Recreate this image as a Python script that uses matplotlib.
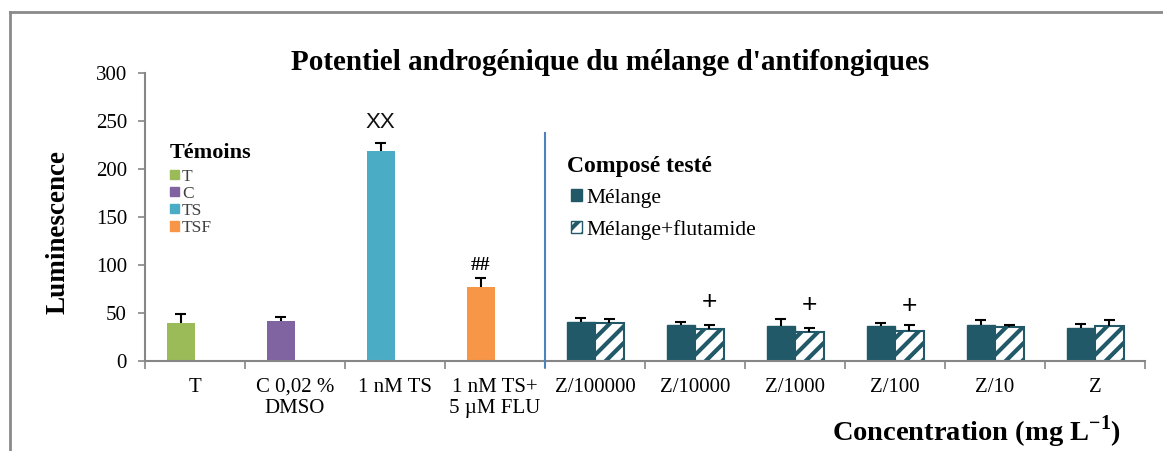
import matplotlib
matplotlib.use("Agg")
import matplotlib.pyplot as plt
from matplotlib.patches import Patch
from matplotlib.lines import Line2D
import numpy as np

plt.rcParams['font.family'] = ['Liberation Serif', 'DejaVu Serif']
plt.rcParams['mathtext.fontset'] = 'custom'
plt.rcParams['mathtext.rm'] = 'Liberation Serif'
plt.rcParams['mathtext.bf'] = 'Liberation Serif:bold'
plt.rcParams['hatch.linewidth'] = 3

# controls (témoins)
ctrl_labels = ['T', 'C 0,02 %\nDMSO', '1 nM TS', '1 nM TS+\n5 µM FLU']
ctrl_names = ['T', 'C', 'TS', 'TSF']
ctrl_vals = [40, 42, 219, 77]
ctrl_err = [9, 4, 8, 9.5]
ctrl_colors = ['#9BBB59', '#8064A2', '#4BACC6', '#F79646']

# mixture tested at each dilution
conc_labels = ['Z/100000', 'Z/10000', 'Z/1000', 'Z/100', 'Z/10', 'Z']
melange = [40.3, 37.5, 36.1, 36.8, 37.5, 34.0]
melange_err = [4.2, 3.1, 7.6, 2.4, 5.5, 4.2]
flut = [39.2, 33.0, 30.0, 31.6, 35.1, 36.8]
flut_err = [4.8, 4.8, 4.7, 5.5, 2.4, 6.2]

# significance marks
plus_idx = [1, 2, 3]
plus_y = [61, 58, 57]

teal = '#215968'
w = 0.285

fig = plt.figure(figsize=(11.63, 4.51), dpi=100)
ax = fig.add_axes([145/1163, 90/451, 1000/1163, 288/451])

xc = np.arange(len(ctrl_vals)) - w/2
ax.bar(xc, ctrl_vals, w, color=ctrl_colors, zorder=2)

xm = np.arange(len(melange)) + len(ctrl_vals)
ax.bar(xm - w/2, melange, w, color=teal, edgecolor=teal, lw=1, zorder=2)
ax.bar(xm + w/2, flut, w, color='white', edgecolor=teal, hatch='//', lw=1.5, zorder=2)


def err_bars(x, v, e):
    v = np.asarray(v)
    top = v + np.asarray(e)
    ax.vlines(x, v, top, color='black', lw=1.5, zorder=3)
    ax.hlines(top, x - 0.055, x + 0.055, color='black', lw=1.5, zorder=3)


err_bars(xc, ctrl_vals, ctrl_err)
err_bars(xm - w/2, melange, melange_err)
err_bars(xm + w/2, flut, flut_err)

ax.text(xc[2], 248, 'XX', ha='center', va='center', fontsize=16,
        family='Liberation Sans', color='#111111')
ax.text(xc[3], 100, '##', ha='center', va='center', fontsize=14,
        fontweight='bold')
for i, yv in zip(plus_idx, plus_y):
    ax.text(xm[i] + w/2, yv, '+', ha='center', va='center', fontsize=19,
            family='Liberation Sans')

# separator between controls and tested compound
ax.plot([3.5, 3.5], [-6, 237], color='#4F81BD', lw=1.5, clip_on=False, zorder=3)

ax.set_xlim(-0.5, 9.5)
ax.set_ylim(0, 300)
ax.set_yticks(np.arange(0, 301, 50))
ax.set_xticks(np.arange(10))
ax.set_xticklabels(ctrl_labels + conc_labels)
ax.set_xticks(np.arange(-0.5, 10, 1), minor=True)
ax.tick_params(axis='x', which='major', length=0, pad=12, labelsize=15)
ax.tick_params(axis='x', which='minor', length=6, color='#868686', width=1.2)
ax.tick_params(axis='y', length=5, color='#868686', width=1.2, pad=8, labelsize=15)
for s in ['top', 'right']:
    ax.spines[s].set_visible(False)
for s in ['left', 'bottom']:
    ax.spines[s].set_color('#868686')
    ax.spines[s].set_linewidth(1.5)

# legend for the controls
ax.text(0.025, 0.722, 'Témoins', transform=ax.transAxes, ha='left', va='center',
        fontsize=16, fontweight='bold')
h1 = [Patch(color=c) for c in ctrl_colors]
leg1 = ax.legend(h1, ctrl_names, loc='upper left', bbox_to_anchor=(0.025, 0.668),
                 frameon=False, borderpad=0, fontsize=12.5,
                 handlelength=0.5, handleheight=0.5, handletextpad=0.2,
                 labelspacing=0.06, borderaxespad=0, labelcolor='#404040')
ax.add_artist(leg1)

# legend for the tested mixture
ax.text(0.422, 0.674, 'Composé testé', transform=ax.transAxes, ha='left',
        va='center', fontsize=17, fontweight='bold')
h2 = [Patch(facecolor=teal, edgecolor=teal),
      Patch(facecolor='white', edgecolor=teal, hatch='//', lw=1)]
ax.legend(h2, ['Mélange', 'Mélange+flutamide'], loc='upper left',
          bbox_to_anchor=(0.426, 0.598), frameon=False, borderpad=0,
          fontsize=15.5, handlelength=0.5, handleheight=0.5,
          handletextpad=0.2, labelspacing=0.55, borderaxespad=0)

fig.text(610/1163, 1 - 62/451, "Potentiel androgénique du mélange d'antifongiques",
         ha='center', va='center', fontsize=21, fontweight='bold')
fig.text(58/1163, 1 - 232/451, 'Luminescence', rotation=90, ha='center',
         va='center', fontsize=19.5, fontweight='bold')
fig.text(977/1163, 1 - 432/451, r'Concentration (mg L$^{\mathbf{-1}}$)',
         ha='center', va='center', fontsize=20.5, fontweight='bold')

# outer frame
fig.add_artist(Line2D([10/1163, 1], [1 - 12/451] * 2, transform=fig.transFigure,
                      color='#8a8a8a', lw=2))
fig.add_artist(Line2D([10/1163] * 2, [0, 1 - 12/451], transform=fig.transFigure,
                      color='#8a8a8a', lw=2))

fig.savefig('out.png', dpi=100)
